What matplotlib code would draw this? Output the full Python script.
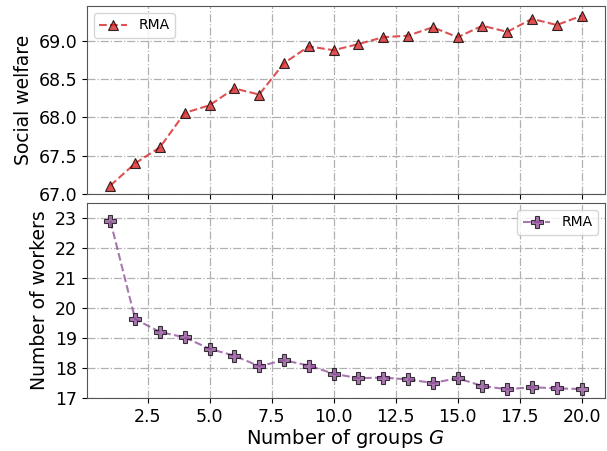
import matplotlib
matplotlib.use("Agg")
import matplotlib.pyplot as plt
import numpy as np

groups = list(range(1, 21))
welfare = [67.11, 67.40, 67.61, 68.06, 68.16, 68.38, 68.30, 68.71, 68.93, 68.88,
           68.96, 69.05, 69.07, 69.18, 69.05, 69.20, 69.12, 69.29, 69.21, 69.33]
workers = [22.90, 19.63, 19.20, 19.02, 18.64, 18.41, 18.06, 18.26, 18.08, 17.81,
           17.66, 17.68, 17.62, 17.50, 17.66, 17.40, 17.29, 17.36, 17.32, 17.30]
series_label = "RMA"

fig = plt.figure(figsize=(6.07, 4.51), dpi=100)
ax1 = fig.add_axes([0.143, 0.570, 0.854, 0.417])
ax2 = fig.add_axes([0.143, 0.1175, 0.854, 0.4325], sharex=ax1)

ax1.plot(groups, welfare, linestyle='--', color='#d62728', alpha=0.8, lw=1.5,
         marker='^', markersize=7.5, markerfacecolor='#d62728', markeredgecolor='black',
         markeredgewidth=0.8, label=series_label)
ax2.plot(groups, workers, linestyle='--', color='#8c4a96', alpha=0.75, lw=1.5,
         marker='P', markersize=8.5, markerfacecolor='#8c4a96', markeredgecolor='black',
         markeredgewidth=0.8, label=series_label)

ax1.set_ylim(67.0, 69.46)
ax1.set_yticks([67.0, 67.5, 68.0, 68.5, 69.0])
ax2.set_ylim(17.0, 23.5)
ax2.set_yticks([17, 18, 19, 20, 21, 22, 23])
ax1.tick_params(labelbottom=False)

for ax in (ax1, ax2):
    ax.grid(True, linestyle='-.', color='#b0b0b0', lw=0.9)
    ax.tick_params(labelsize=12.5)
    for s in ax.spines.values():
        s.set_color('#555555')

ax1.set_ylabel('Social welfare', fontsize=13.5)
ax2.set_ylabel('Number of workers', fontsize=13.5)
ax2.set_xlabel('Number of groups $G$', fontsize=14, labelpad=1)
ax1.legend(loc='upper left', fontsize=10)
ax2.legend(loc='upper right', fontsize=10)

fig.savefig('out.png', dpi=100)
